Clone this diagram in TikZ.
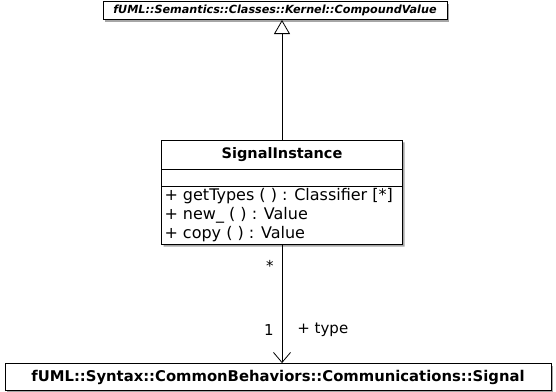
\documentclass[tikz,border=0pt]{standalone}
\usepackage{fontspec}
\setmainfont{DejaVu Sans}
\usetikzlibrary{positioning,arrows.meta,shapes.multipart,shadows}

\begin{document}
\begin{tikzpicture}[
    x=1pt, y=1pt,
    every node/.style={font=\fontsize{15}{17.5}\selectfont},
    umlshadow/.style={drop shadow={shadow xshift=2pt, shadow yshift=-2pt, fill=gray!70, opacity=1}},
    umlclass/.style={rectangle, draw=black, fill=white, line width=0.9pt, umlshadow,
        inner xsep=6pt, inner ysep=0pt},
    umlsplit/.style={rectangle split, rectangle split parts=3, draw=black, fill=white,
        line width=0.9pt, align=left, inner xsep=3pt, inner ysep=2pt, umlshadow,
        rectangle split part align={center,left,left}},
    general/.style={-{Triangle[open, length=14pt, width=16pt]}, line width=0.8pt},
    assoc/.style={-{Straight Barb[length=10pt, width=17pt]}, line width=0.8pt},
    mult/.style={font=\fontsize{15}{17}\selectfont, inner sep=2pt},
]
\useasboundingbox (0,0) rectangle (556,-391);

% classes
\node[umlsplit, anchor=north] (instance) at (282,-140) {
    \makebox[235pt]{\fontsize{14.5}{16}\selectfont\bfseries\rule[-8pt]{0pt}{24pt}SignalInstance}
    \nodepart{two}\rule{0pt}{12pt}
    \nodepart[font=\fontsize{16}{19}\selectfont]{three}+ getTypes ( ) : Classifier [*]\\+ new\_ ( ) : Value\\+ copy ( ) : Value};
\node[umlclass, minimum width=344pt, minimum height=18pt,
      font=\fontsize{11.2}{13}\selectfont\bfseries\itshape,
      above=120pt of instance.north, xshift=-7pt] (compound)
    {fUML::Semantics::Classes::Kernel::CompoundValue};
\node[umlclass, minimum width=546pt, minimum height=27pt,
      font=\fontsize{14.8}{17}\selectfont\bfseries,
      below=118pt of instance.south, xshift=-4pt] (signal)
    {fUML::Syntax::CommonBehaviors::Communications::Signal};

% relations
\draw[general] (instance.north) -- (instance.north |- compound.south);
\draw[assoc] (instance.south) -- (instance.south |- signal.north)
    node[mult, pos=0.18, left=6pt] {*}
    node[mult, pos=0.72, left=6pt] {1}
    node[mult, pos=0.72, right=13pt] {+ type};

\end{tikzpicture}
\end{document}
